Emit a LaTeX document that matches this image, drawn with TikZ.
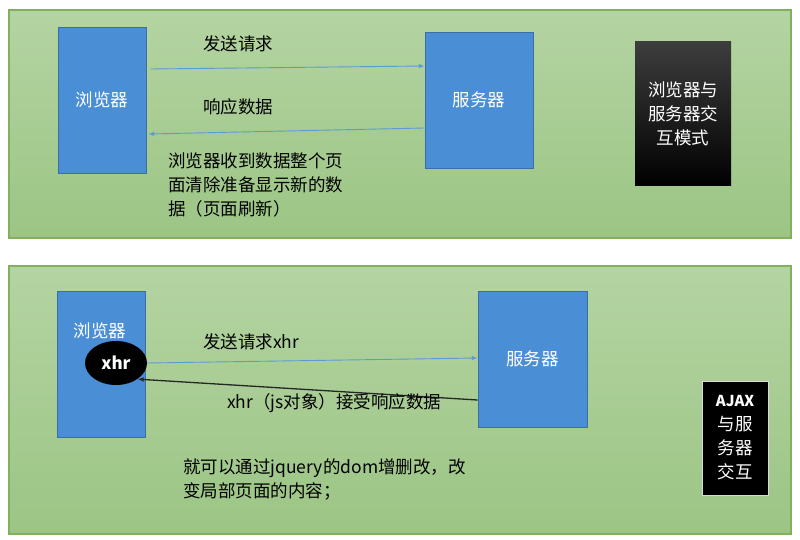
\documentclass[tikz,border=0pt]{standalone}
\usepackage{fontspec}
\setmainfont{Noto Sans CJK SC}
\usepackage{xcolor}
\usepackage{tikz}
\usetikzlibrary{arrows.meta, positioning, shapes.geometric}
\definecolor{panelhi}{HTML}{B4D4A2}
\definecolor{panello}{HTML}{9CC585}
\definecolor{panelrim}{HTML}{82B05E}
\definecolor{boxblue}{HTML}{4A8FD6}
\definecolor{boxrim}{HTML}{3B6EA6}
\definecolor{linkblue}{HTML}{5B9BD5}

\begin{document}
\begin{tikzpicture}[
    x=1pt, y=-1pt,
    font=\fontsize{17.5}{24}\selectfont,
    panel/.style={draw=panelrim, line width=1.3pt, top color=panelhi, bottom color=panello, inner sep=0pt},
    hostbox/.style={draw=boxrim, line width=0.9pt, fill=boxblue, text=white, inner sep=0pt, align=center},
    tagbox/.style={fill=black, text=white, inner sep=0pt, align=center},
    note/.style={anchor=west, inner sep=0pt, align=left},
    ar/.style={-{Latex[length=2mm, width=1.6mm]}, linkblue, line width=0.9pt},
    arb/.style={-{Latex[length=2.2mm, width=1.6mm]}, black!85, line width=1.3pt}
  ]
    \fill[white] (0,0) rectangle (800,540);
    \useasboundingbox (0,0) rectangle (800,540);

    % page refresh model
    \node[panel, minimum width=782pt, minimum height=228pt] (pa) at (400,124) {};
    \node[hostbox, minimum width=88pt, minimum height=146pt] (b1) at (102,100) {浏览器};
    \node[hostbox, minimum width=108pt, minimum height=136pt] (s1) at (479,100) {服务器};
    \node[tagbox, minimum width=96pt, minimum height=144pt, top color=black!76, middle color=black, bottom color=black] (t1) at (683,114) {浏览器与\\服务器交\\互模式};
    \draw[ar] ([xshift=4pt, yshift=31pt]b1.east) -- ([yshift=34pt]s1.west);
    \draw[ar] ([yshift=-28pt]s1.west) -- ([xshift=2pt, yshift=-34pt]b1.east);
    \node[note] (l1) at (203,44) {发送请求};
    \node[note] (l2) at (203,107) {响应数据};
    \node[note] (l3) at (168,185) {浏览器收到数据整个页\\面清除准备显示新的数\\据（页面刷新）};

    % ajax model
    \node[panel, minimum width=782pt, minimum height=268pt] (pb) at (400,400) {};
    \node[hostbox, minimum width=88pt, minimum height=146pt] (b2) at (101,364) {};
    \node[text=white, inner sep=0pt] (b2l) at (100,331) {浏览器};
    \node[ellipse, fill=black, text=white, minimum width=62pt, minimum height=44pt, inner sep=0pt, font=\fontsize{17}{20}\selectfont\bfseries] (xhr) at (116,363) {xhr};
    \node[hostbox, minimum width=109pt, minimum height=136pt] (s2) at (532.5,359) {服务器};
    \node[tagbox, draw=white!85!black, line width=0.8pt, minimum width=66pt, minimum height=114pt] (t2) at (735,438) {{\fontsize{15}{24}\selectfont\bfseries AJAX}\\与服\\务器\\交互};
    \draw[ar] (xhr.east) -- ([yshift=1pt]s2.west);
    \draw[arb] ([yshift=-41pt]s2.west) -- (xhr.-37);
    \node[note] (l4) at (203,342) {发送请求xhr};
    \node[note] (l5) at (227,403) {xhr（js对象）接受响应数据};
    \node[note] (l6) at (183,480) {就可以通过jquery的dom增删改，改\\变局部页面的内容；};
  \end{tikzpicture}
\end{document}
